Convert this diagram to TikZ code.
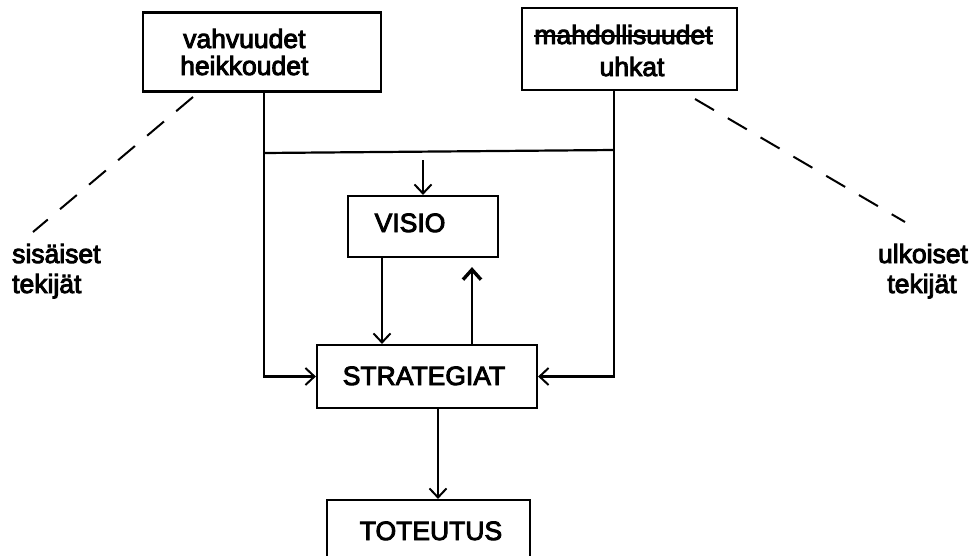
\documentclass[tikz,border=0pt]{standalone}
\usepackage{fontspec}
\setmainfont{Liberation Sans}
\newfontfamily\thickfont{Liberation Sans}[FakeBold=3.5]
\usetikzlibrary{arrows.meta}
\begin{document}
\begin{tikzpicture}[x=1pt,y=-1pt,
  box/.style={draw, line width=2.2pt, inner sep=0pt},
  txt/.style={font=\thickfont\fontsize{26.5}{30}\selectfont, inner sep=0pt, anchor=base},
  conn/.style={line width=2.2pt},
  arr/.style={conn, -{Straight Barb[length=9pt,width=17pt,line width=2pt]}},
  arrthick/.style={line width=2.6pt, -{Straight Barb[length=10pt,width=18pt,line width=3.4pt]}},
  dsh/.style={line width=2pt, dash pattern=on 22pt off 16pt}]
\useasboundingbox (0,0) rectangle (975,555);
\fill[white] (0,0) rectangle (975,555);
\clip (0,0) rectangle (975,555);
% boxes
\node[box, minimum width=238pt, minimum height=79pt] (tl) at (262,52) {};
\node[box, minimum width=215pt, minimum height=82pt] (tr) at (629.5,49) {};
\node[box, minimum width=150pt, minimum height=61pt] (visio) at (423,226.5) {};
\node[box, minimum width=220pt, minimum height=63pt] (strat) at (427,376.5) {};
\node[box, minimum width=203pt, minimum height=90pt] (toto) at (428.5,545) {};
% texts
\node[txt, anchor=base west] (t1) at (183,48) {vahvuudet};
\node[txt, anchor=base west] (t2) at (180,75) {heikkoudet};
\node[txt] (t3) at (623.5,44) {mahdollisuudet};
\node[txt] (t4) at (632,76) {uhkat};
\draw[conn] ([yshift=8pt]t3.base west) -- ([yshift=8pt]t3.base east);
\node[txt] (t5) at (410,232) {VISIO};
\node[txt] (t6) at (424,385) {STRATEGIAT};
\node[txt] (t7) at (431,540) {TOTEUTUS};
\node[txt, anchor=base west] (s1) at (12,263) {sisäiset};
\node[txt, anchor=base west] (s2) at (12,293) {tekijät};
\node[txt] (u1) at (923,263) {ulkoiset};
\node[txt] (u2) at (922,293) {tekijät};
% connectors
\coordinate (hl) at (264,153);
\coordinate (hr) at (614,150);
\coordinate (va) at (423,160);
\coordinate (a1) at (382,0);
\coordinate (a2) at (472,0);
\coordinate (a3) at (438,0);
\draw[arr] (tl.south -| hl) |- (strat.west);
\draw[arr] (tr.south -| hr) |- (strat.east);
\draw[conn] (hl) -- (hr);
\draw[arr] (va) -- (visio.north);
\draw[arr] (visio.south -| a1) -- (strat.north -| a1);
\draw[arrthick, shorten >=9pt] (strat.north -| a2) -- (visio.south -| a2);
\draw[arr] (strat.south -| a3) -- (toto.north -| a3);
% dashed
\coordinate (d1) at (193,97);
\coordinate (d2) at (33,232);
\coordinate (d3) at (695,99);
\coordinate (d4) at (905,222);
\draw[dsh] (d1) -- (d2);
\draw[dsh] (d3) -- (d4);
\end{tikzpicture}
\end{document}
